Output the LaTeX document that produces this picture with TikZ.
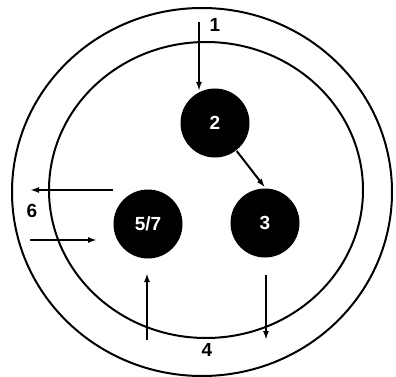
\documentclass[tikz,border=0pt]{standalone}
\usepackage{fontspec}
\setmainfont{Liberation Sans}
\usetikzlibrary{arrows.meta}

\begin{document}
\begin{tikzpicture}[x=1pt, y=-1pt, line width=2pt, >={Latex[length=9pt,width=6pt]},
    pin/.style={circle, fill=black, text=white, minimum size=69pt, inner sep=0pt, font=\fontsize{19}{22}\selectfont\bfseries},
    num/.style={inner sep=0pt, font=\fontsize{19}{22}\selectfont\bfseries}]
    \useasboundingbox (0,0) rectangle (396,377);

    % Rings
    \draw (202,192) ellipse [x radius=190pt, y radius=184pt];
    \draw (206,190) ellipse [x radius=157pt, y radius=148pt];

    % Nodes
    \node[pin] (pin2) at (215,123) {2};
    \node[pin] (pin3) at (265,223) {3};
    \node[pin] (pin57) at (148,224) {5/7};

    % Free ends
    \coordinate (in1a) at (199,22);  \coordinate (in1b) at (199,91);
    \coordinate (out6a) at (113,190); \coordinate (out6b) at (30,190);
    \coordinate (in6a) at (30,240);  \coordinate (in6b) at (97,240);
    \coordinate (in4a) at (147,340); \coordinate (in4b) at (147,273);
    \coordinate (out4a) at (266,275); \coordinate (out4b) at (266,340);

    % Arrows
    \draw[->] (in1a) -- (in1b);
    \draw[->] (pin2) -- (pin3.north);
    \draw[->] (out6a) -- (out6b);
    \draw[->] (in6a) -- (in6b);
    \draw[->] (in4a) -- (in4b);
    \draw[->] (out4a) -- (out4b);

    % Labels
    \node[num] (lab1) at (215,25) {1};
    \node[num] (lab6) at (32,211) {6};
    \node[num] (lab4) at (207,350) {4};
\end{tikzpicture}
\end{document}
